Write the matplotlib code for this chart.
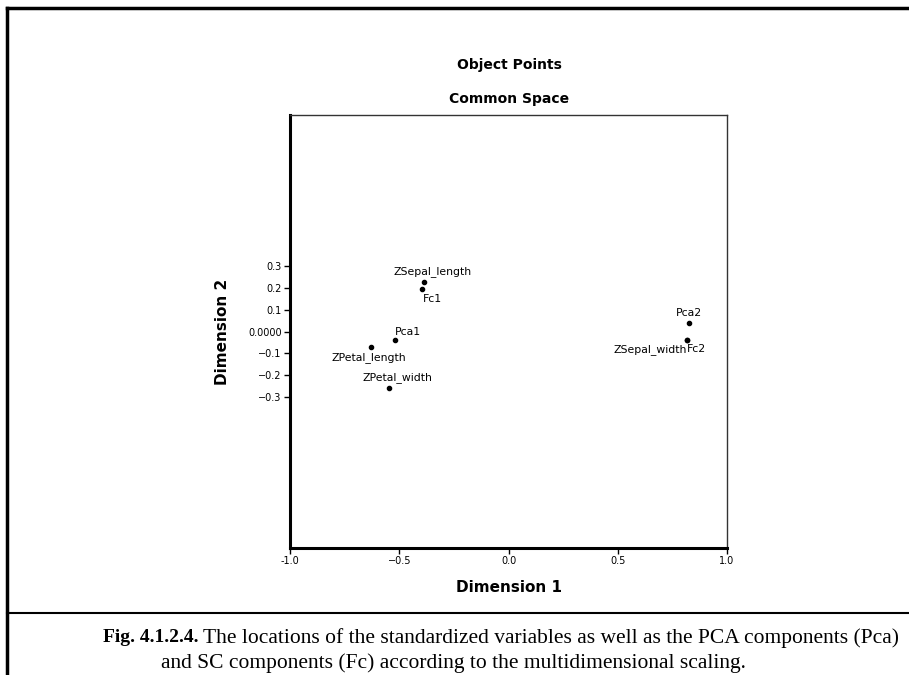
import matplotlib.pyplot as plt
from matplotlib.lines import Line2D

# object point coordinates (dimension 1, dimension 2)
names = ['ZSepal_length', 'Fc1', 'Pca1', 'ZPetal_length', 'ZPetal_width',
         'Pca2', 'ZSepal_width', 'Fc2']
dim1 = [-0.387, -0.396, -0.518, -0.631, -0.546, 0.825, 0.818, 0.818]
dim2 = [0.227, 0.197, -0.038, -0.069, -0.261, 0.038, -0.038, -0.038]

xticks = [-1.0, -0.5, 0.0, 0.5, 1.0]
xticklabels = ['-1.0', '\u22120.5', '0.0', '0.5', '1.0']
yticks = [0.3, 0.2, 0.1, 0.0, -0.1, -0.2, -0.3]
yticklabels = ['0.3', '0.2', '0.1', '0.0000', '\u22120.1', '\u22120.2', '\u22120.3']

# label placement in points: (dx, dy, ha, va)
offsets = {
    'ZSepal_length': (6, 4, 'center', 'bottom'),
    'Fc1': (1, -4, 'left', 'top'),
    'Pca1': (0, 2, 'left', 'bottom'),
    'ZPetal_length': (-1, -4, 'center', 'top'),
    'ZPetal_width': (6, 4, 'center', 'bottom'),
    'Pca2': (0, 4, 'center', 'bottom'),
    'ZSepal_width': (0, -3, 'right', 'top'),
    'Fc2': (0, -3, 'left', 'top'),
}

fig = plt.figure(figsize=(9.09, 6.75), dpi=100)
W, H = 909, 675

ax = fig.add_axes([290 / W, 1 - 548 / H, 437 / W, 433 / H])
ax.scatter(dim1, dim2, s=9, color='black', zorder=3)
for n, x, y in zip(names, dim1, dim2):
    dx, dy, ha, va = offsets[n]
    ax.annotate(n, (x, y), xytext=(dx, dy), textcoords='offset points',
                ha=ha, va=va, fontsize=7.8)

ax.set_xlim(-1.0, 1.0)
ax.set_ylim(-0.995, 0.995)
ax.set_xticks(xticks)
ax.set_xticklabels(xticklabels, fontsize=7)
ax.set_yticks(yticks)
ax.set_yticklabels(yticklabels, fontsize=7)
ax.tick_params(direction='out', length=4, width=1, pad=2)
for s in ['left', 'bottom']:
    ax.spines[s].set_linewidth(2.2)
for s in ['top', 'right']:
    ax.spines[s].set_linewidth(1.0)
    ax.spines[s].set_color('#333333')
ax.set_xlabel('Dimension 1', fontsize=11, fontweight='bold', labelpad=10)
ax.set_ylabel('Dimension 2', fontsize=11, fontweight='bold')
ax.yaxis.set_label_coords(-0.137, 0.5)

fig.text(509 / W, 1 - 65 / H, 'Object Points', ha='center', va='center',
         fontsize=10, fontweight='bold')
fig.text(509 / W, 1 - 99 / H, 'Common Space', ha='center', va='center',
         fontsize=10, fontweight='bold')

# frame around the figure and rule above the caption
fig.add_artist(Line2D([7 / W, 7 / W], [0, 1 - 8 / H], color='black', lw=2.5))
fig.add_artist(Line2D([7 / W, 1], [1 - 8 / H, 1 - 8 / H], color='black', lw=2.5))
fig.add_artist(Line2D([7 / W, 1], [1 - 613 / H, 1 - 613 / H], color='black', lw=1.5))

serif = 'Liberation Serif'
t1 = fig.text(103 / W, 1 - 638 / H, 'Fig. 4.1.2.4.', ha='left', va='center',
              fontweight='bold', family=serif, fontsize=14)
ax.annotate(' The locations of the standardized variables as well as the PCA components (Pca)',
            xy=(1, 0.5), xycoords=t1, ha='left', va='center',
            family=serif, fontsize=15.5)
fig.text(453 / W, 1 - 663 / H,
         'and SC components (Fc) according to the multidimensional scaling.',
         ha='center', va='center', family=serif, fontsize=15.5)

fig.savefig('out.png', dpi=100)
